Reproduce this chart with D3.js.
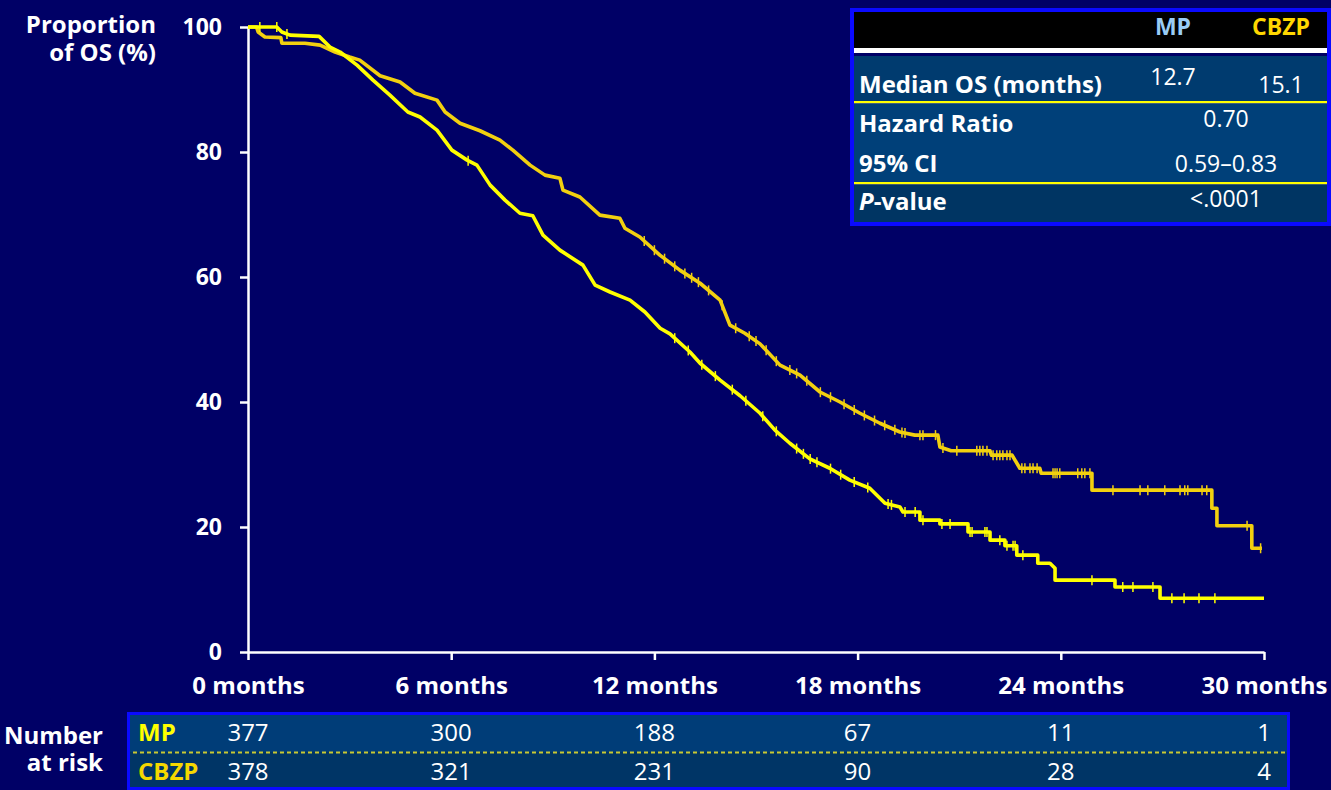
<!DOCTYPE html>
<html>
<head>
<meta charset="utf-8">
<script src="https://cdn.jsdelivr.net/npm/d3@7"></script>
<style>
  body { margin: 0; background: #000066; }
  svg { display: block; font-family: "Open Sans", sans-serif; }
</style>
</head>
<body>
<div id="chart"></div>
<script>
// KM curve vertices: month, proportion (%)
// (the dense early part has many tiny steps, so it is traced as a polyline;
//  the sparse tail keeps its flat runs and drops)
const mpMonths = [0, 0.85, 1.0, 1.24, 2.1, 2.42, 2.72, 3.22, 3.69, 4.19, 4.72, 5.08, 5.58, 6.02, 6.47, 6.76, 7.15, 7.59, 8.03, 8.41, 8.71, 9.21, 9.89, 10.25, 10.69, 11.28, 11.72, 12.17, 12.46, 13.05, 13.35, 13.94, 14.53, 15.12, 15.56, 16.0, 16.59, 17.18, 17.77, 18.36, 18.81, 19.25, 19.34, 19.84, 19.84, 20.43, 20.43, 21.26, 21.26, 21.91, 21.91, 22.35, 22.35, 22.7, 22.7, 23.32, 23.32, 23.68, 23.83, 23.83, 25.6, 25.6, 26.93, 26.93, 30.0];
const mpSurvival = [100, 100, 99.2, 98.7, 98.5, 96.8, 96.0, 93.9, 91.5, 89.1, 86.4, 85.6, 83.5, 80.3, 78.7, 77.9, 74.7, 72.3, 70.2, 69.8, 66.7, 64.3, 61.9, 58.7, 57.6, 56.3, 54.4, 51.8, 50.9, 48.0, 46.2, 43.5, 41.0, 38.2, 35.5, 33.4, 30.9, 29.4, 27.5, 26.2, 23.8, 23.2, 22.4, 22.4, 21.1, 21.1, 20.5, 20.5, 19.2, 19.2, 17.9, 17.9, 17.0, 17.0, 15.5, 15.5, 14.2, 14.2, 13.4, 11.5, 11.5, 10.4, 10.4, 8.6, 8.6];

const cbzpMonths = [0, 0.25, 0.3, 0.5, 0.97, 1.0, 1.68, 2.13, 2.57, 3.0, 3.3, 3.9, 4.49, 4.93, 5.58, 5.82, 6.26, 6.85, 7.44, 7.82, 8.33, 8.77, 9.21, 9.3, 9.8, 10.39, 10.98, 11.13, 11.57, 12.16, 12.75, 13.35, 13.94, 14.23, 14.67, 15.12, 15.71, 16.3, 16.89, 17.48, 18.07, 18.66, 19.25, 19.69, 20.37, 20.43, 20.76, 21.91, 21.95, 22.56, 22.79, 23.38, 23.42, 24.92, 24.92, 28.46, 28.46, 28.61, 28.61, 29.64, 29.64, 29.94];
const cbzpSurvival = [100, 100, 99.2, 98.4, 98.3, 97.4, 97.4, 97.1, 96.0, 95.2, 94.7, 92.2, 91.2, 89.4, 88.3, 86.4, 84.6, 83.4, 81.9, 80.3, 77.9, 76.3, 75.8, 73.9, 72.8, 69.9, 69.4, 67.8, 66.4, 63.5, 61.1, 59.0, 56.3, 52.3, 51.0, 49.3, 45.9, 44.3, 41.6, 40.0, 38.2, 36.6, 35.2, 34.7, 34.7, 32.8, 32.2, 32.2, 31.5, 31.5, 29.4, 29.4, 28.6, 28.6, 25.9, 25.9, 23.0, 23.0, 20.2, 20.2, 16.6, 16.6];

// censored observations (months)
const mpCensored = [0.35, 0.85, 1.15, 6.5, 12.6, 13.0, 13.4, 13.8, 14.3, 14.7, 15.2, 15.6, 16.2, 16.4, 16.6, 16.8, 17.2, 17.5, 17.9, 18.3, 18.9, 19.0, 19.4, 19.7, 19.93, 20.49, 20.73, 21.32, 21.38, 21.76, 21.82, 22.2, 22.41, 22.59, 22.65, 22.88, 24.92, 25.83, 26.13, 26.72, 27.28, 27.64, 28.08, 28.55];
const cbzpCensored = [11.7, 12.0, 12.3, 12.6, 12.9, 13.1, 13.3, 13.6, 14.0, 14.4, 14.8, 15.0, 15.3, 15.6, 16.0, 16.2, 16.5, 16.9, 17.2, 17.6, 17.9, 18.2, 18.5, 18.8, 19.1, 19.31, 19.4, 19.84, 19.93, 20.3, 20.52, 20.93, 21.52, 21.61, 21.7, 21.82, 22.0, 22.11, 22.2, 22.29, 22.41, 22.5, 22.85, 22.94, 23.09, 23.18, 23.3, 23.77, 23.83, 23.89, 23.97, 24.5, 24.62, 24.71, 24.86, 25.54, 26.34, 26.57, 27.07, 27.52, 27.66, 27.75, 28.17, 28.31, 29.5, 29.9];

const xTicks = [0, 6, 12, 18, 24, 30];
const yTicks = [0, 20, 40, 60, 80, 100];
const riskMP = [377, 300, 188, 67, 11, 1];
const riskCBZP = [378, 321, 231, 90, 28, 4];

const armNames = ["MP", "CBZP"];
const medianOS = ["12.7", "15.1"];
const hazardRatio = "0.70";
const ci95 = "0.59\u20130.83";
const pValue = "<.0001";

const width = 1331;
const height = 790;
const mpColor = "#ffff00";
const cbzpColor = "#f2d00f";

const svg = d3.select("#chart").append("svg")
    .attr("width", width)
    .attr("height", height);

svg.append("rect").attr("width", width).attr("height", height).attr("fill", "#000066");

const x = d3.scaleLinear().domain([0, 30]).range([248, 1264]);
const y = d3.scaleLinear().domain([0, 100]).range([652, 27]);

// axes
const yAxis = svg.append("g")
    .attr("transform", `translate(${x(0)},0)`)
    .call(d3.axisLeft(y).tickValues(yTicks).tickSize(8).tickSizeOuter(0).tickPadding(18));

const xAxis = svg.append("g")
    .attr("transform", `translate(0,${y(0)})`)
    .call(d3.axisBottom(x).tickValues(xTicks).tickSize(8).tickSizeOuter(0).tickPadding(17)
        .tickFormat(d => d + " months"));

[yAxis, xAxis].forEach(g => {
    g.select(".domain").attr("stroke", "#fff").attr("stroke-width", 2.5);
    g.selectAll(".tick line").attr("stroke", "#fff").attr("stroke-width", 2.5);
    g.selectAll(".tick text").attr("fill", "#fff").attr("font-weight", "bold")
        .attr("font-family", "Open Sans, sans-serif");
});
yAxis.selectAll(".tick text").attr("font-size", 23);
xAxis.selectAll(".tick text").attr("font-size", 24);

// y title
const yTitle = svg.append("text")
    .attr("text-anchor", "end")
    .attr("fill", "#fff")
    .attr("font-weight", "bold")
    .attr("font-size", 24);
yTitle.append("tspan").attr("x", 156).attr("y", 33).text("Proportion");
yTitle.append("tspan").attr("x", 156).attr("y", 61).text("of OS (%)");

// KM curves
const line = d3.line()
    .x(d => x(d[0]))
    .y(d => y(d[1]));

function drawArm(months, surv, censored, color) {
    const pts = months.map((m, i) => [m, surv[i]]);
    svg.append("path")
        .datum(pts)
        .attr("d", line)
        .attr("fill", "none")
        .attr("stroke", color)
        .attr("stroke-width", 3.6)
        .attr("stroke-linejoin", "round");

    // censor ticks sit on the curve at that time
    const valueAt = t => {
        for (let i = 0; i < months.length - 1; i++) {
            if (t >= months[i] && t <= months[i + 1] && months[i + 1] > months[i]) {
                const f = (t - months[i]) / (months[i + 1] - months[i]);
                return surv[i] + f * (surv[i + 1] - surv[i]);
            }
        }
        return surv[surv.length - 1];
    };
    svg.append("g")
        .selectAll("line")
        .data(censored)
        .join("line")
        .attr("x1", d => x(d))
        .attr("x2", d => x(d))
        .attr("y1", d => y(valueAt(d)) - 5)
        .attr("y2", d => y(valueAt(d)) + 5)
        .attr("stroke", color)
        .attr("stroke-width", 1.5);
}

drawArm(cbzpMonths, cbzpSurvival, cbzpCensored, cbzpColor);
drawArm(mpMonths, mpSurvival, mpCensored, mpColor);

// stats box, top right
const box = svg.append("g");
box.append("rect").attr("x", 850).attr("y", 8).attr("width", 481).attr("height", 218).attr("fill", "#0a0aff");
box.append("rect").attr("x", 854).attr("y", 12).attr("width", 473).attr("height", 36).attr("fill", "#000");
box.append("rect").attr("x", 854).attr("y", 48).attr("width", 473).attr("height", 5).attr("fill", "#fff");
box.append("rect").attr("x", 854).attr("y", 53).attr("width", 473).attr("height", 3).attr("fill", "#000066");
box.append("rect").attr("x", 854).attr("y", 56).attr("width", 473).attr("height", 45).attr("fill", "#003b6f");
box.append("rect").attr("x", 854).attr("y", 101).attr("width", 473).attr("height", 2.5).attr("fill", "#ffff00");
box.append("rect").attr("x", 854).attr("y", 103.5).attr("width", 473).attr("height", 78.5).attr("fill", "#004079");
box.append("rect").attr("x", 854).attr("y", 182).attr("width", 473).attr("height", 2.5).attr("fill", "#ffff00");
box.append("rect").attr("x", 854).attr("y", 184.5).attr("width", 473).attr("height", 37.5).attr("fill", "#003563");

box.append("text").attr("x", 1173).attr("y", 35).attr("text-anchor", "middle")
    .attr("font-weight", "bold").attr("font-size", 23).attr("fill", "#99ccf5").text(armNames[0]);
box.append("text").attr("x", 1281).attr("y", 35).attr("text-anchor", "middle")
    .attr("font-weight", "bold").attr("font-size", 23).attr("fill", "#ffd700").text(armNames[1]);

const labelStyle = t => t.attr("x", 859).attr("fill", "#fff").attr("font-weight", "bold").attr("font-size", 24);
labelStyle(box.append("text").attr("y", 93)).text("Median OS (months)");
labelStyle(box.append("text").attr("y", 132)).text("Hazard Ratio");
labelStyle(box.append("text").attr("y", 172)).text("95% CI");
const pLab = labelStyle(box.append("text").attr("y", 210));
pLab.append("tspan").attr("font-style", "italic").text("P");
pLab.append("tspan").text("-value");

const valStyle = t => t.attr("text-anchor", "middle").attr("fill", "#fff").attr("font-size", 23);
valStyle(box.append("text").attr("x", 1173).attr("y", 85)).text(medianOS[0]);
valStyle(box.append("text").attr("x", 1281).attr("y", 93)).text(medianOS[1]);
valStyle(box.append("text").attr("x", 1226).attr("y", 127)).text(hazardRatio);
valStyle(box.append("text").attr("x", 1226).attr("y", 172)).text(ci95);
valStyle(box.append("text").attr("x", 1226).attr("y", 207)).text(pValue);

// number at risk table
const risk = svg.append("g");
risk.append("rect").attr("x", 127).attr("y", 712).attr("width", 1163).attr("height", 78).attr("fill", "#0a0aff");
risk.append("rect").attr("x", 130).attr("y", 715).attr("width", 1157).attr("height", 37).attr("fill", "#003d78");
risk.append("rect").attr("x", 130).attr("y", 752).attr("width", 1157).attr("height", 35).attr("fill", "#003566");
risk.append("line").attr("x1", 133).attr("x2", 1287).attr("y1", 752.5).attr("y2", 752.5)
    .attr("stroke", "#c8c832").attr("stroke-width", 2).attr("stroke-dasharray", "4,3");

risk.append("text").attr("x", 138).attr("y", 741).attr("font-weight", "bold").attr("font-size", 24)
    .attr("fill", mpColor).text(armNames[0]);
risk.append("text").attr("x", 138).attr("y", 780).attr("font-weight", "bold").attr("font-size", 24)
    .attr("fill", "#f5d800").text(armNames[1]);

risk.selectAll(".mp").data(riskMP).join("text").attr("class", "mp")
    .attr("x", (d, i) => x(xTicks[i])).attr("y", 741)
    .attr("text-anchor", "middle").attr("fill", "#fff").attr("font-size", 24).text(d => d);
risk.selectAll(".cb").data(riskCBZP).join("text").attr("class", "cb")
    .attr("x", (d, i) => x(xTicks[i])).attr("y", 780)
    .attr("text-anchor", "middle").attr("fill", "#fff").attr("font-size", 24).text(d => d);

const riskTitle = svg.append("text").attr("text-anchor", "end").attr("fill", "#fff")
    .attr("font-weight", "bold").attr("font-size", 24);
riskTitle.append("tspan").attr("x", 103).attr("y", 744).text("Number");
riskTitle.append("tspan").attr("x", 103).attr("y", 771).text("at risk");
</script>
</body>
</html>
